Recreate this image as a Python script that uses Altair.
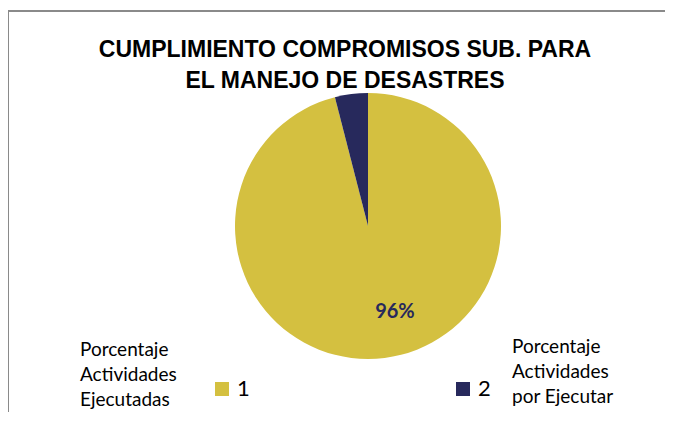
import altair as alt
import pandas as pd

categories = ["1", "2"]
values = [96, 4]
slice_labels = ["96%", ""]
colors = ["#D4C040", "#27295C"]
title_lines = ["CUMPLIMIENTO COMPROMISOS SUB. PARA", "EL MANEJO DE DESASTRES"]
left_note = ["Porcentaje", "Actividades", "Ejecutadas"]
right_note = ["Porcentaje", "Actividades", "por Ejecutar"]

df = pd.DataFrame({"cat": categories, "val": values, "lab": slice_labels})

W, H = 657, 318
CX, CY, R = 360, 132, 133

base = alt.Chart(df)

pie = base.mark_arc(outerRadius=R).encode(
    theta=alt.Theta("val:Q", stack=True),
    color=alt.Color(
        "cat:N",
        scale=alt.Scale(domain=categories, range=colors),
        legend=alt.Legend(
            title=None,
            orient="none",
            legendX=203,
            legendY=284,
            direction="horizontal",
            symbolType="square",
            symbolSize=196,
            symbolStrokeWidth=0,
            symbolOpacity=1,
            labelFont="Lato",
            labelFontSize=22,
            labelColor="#000000",
            labelOffset=4,
            columnPadding=202,
            padding=0,
        ),
    ),
    order=alt.Order("cat:N"),
    x=alt.value(CX),
    y=alt.value(CY),
)

pie_text = base.mark_text(
    radius=90.6, dx=15.6, dy=-3.4, font="Lato", fontWeight="bold",
    fontSize=20, color="#27295C", baseline="middle", align="center",
).encode(
    theta=alt.Theta("val:Q", stack=True),
    order=alt.Order("cat:N"),
    text="lab:N",
    x=alt.value(CX),
    y=alt.value(CY),
)

title_txt = alt.Chart(pd.DataFrame({"t": [title_lines]})).mark_text(
    font="Liberation Sans Narrow, Liberation Sans, Arial, sans-serif",
    fontSize=23, fontWeight="bold",
    align="center", baseline="alphabetic", lineHeight=31, color="#000000",
).encode(text="t", x=alt.value(337), y=alt.value(-37))

left_txt = alt.Chart(pd.DataFrame({"t": [left_note]})).mark_text(
    font="Lato", fontSize=19, align="left", baseline="alphabetic",
    lineHeight=25, color="#000000",
).encode(text="t", x=alt.value(72), y=alt.value(262))

right_txt = alt.Chart(pd.DataFrame({"t": [right_note]})).mark_text(
    font="Lato", fontSize=19, align="left", baseline="alphabetic",
    lineHeight=25, color="#000000",
).encode(text="t", x=alt.value(504), y=alt.value(259))

border_top = alt.Chart(pd.DataFrame({"a": [0]})).mark_rule(
    color="#8A8A8A", strokeWidth=2
).encode(x=alt.value(0), x2=alt.value(W), y=alt.value(-83))

border_left = alt.Chart(pd.DataFrame({"a": [0]})).mark_rule(
    color="#8A8A8A", strokeWidth=2
).encode(x=alt.value(0), y=alt.value(-83), y2=alt.value(H))

chart = alt.layer(
    border_top, border_left, pie, pie_text, title_txt, left_txt, right_txt
).properties(
    width=W,
    height=H,
    background="white",
    padding={"left": 0, "top": 86, "right": 0, "bottom": 0},
    autosize=alt.AutoSizeParams(type="none"),
).configure_view(stroke="transparent", strokeWidth=0)

chart.save("out.html", embed_options={"renderer": "svg", "actions": False})
